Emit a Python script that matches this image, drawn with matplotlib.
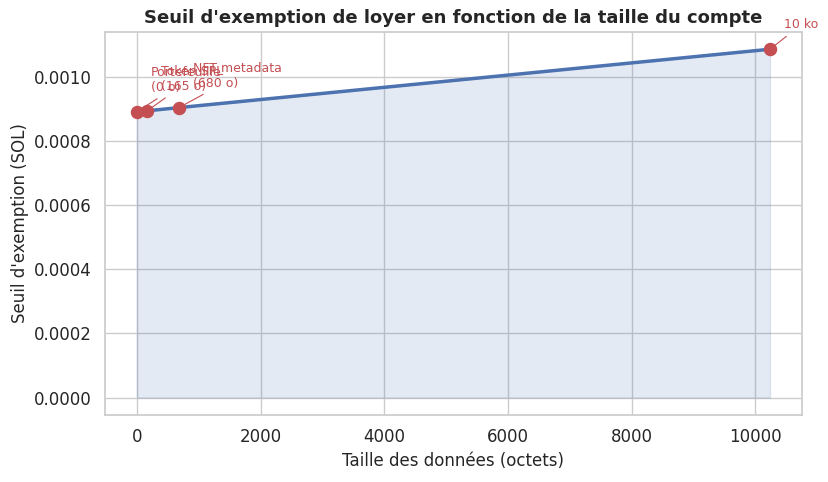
import matplotlib
matplotlib.use("Agg")
import matplotlib.pyplot as plt
import seaborn as sns

# Taille des données (octets) et seuil d'exemption (SOL)
sizes = [0, 165, 680, 10240]
rent_sol = [0.000891, 0.000894, 0.000904, 0.001086]
labels = ["Portefeuille\n(0 o)", "Token SPL\n(165 o)", "NFT metadata\n(680 o)", "10 ko"]

sns.set_theme(style="whitegrid")

fig, ax = plt.subplots(figsize=(8.29, 4.82), dpi=100)
ax.plot(sizes, rent_sol, color="#4c72b0", linewidth=2.5)
ax.fill_between(sizes, rent_sol, alpha=0.15, color="#4c72b0")
ax.scatter(sizes, rent_sol, color="#c44e52", s=75, zorder=5)

for x, y, lab in zip(sizes, rent_sol, labels):
    ax.annotate(lab, (x, y), xytext=(10, 15), textcoords="offset points",
                fontsize=9, color="#c44e52",
                arrowprops=dict(arrowstyle="-", color="#c44e52", lw=0.8))

ax.set_title("Seuil d'exemption de loyer en fonction de la taille du compte",
             fontsize=13, fontweight="bold")
ax.set_xlabel("Taille des données (octets)", fontsize=12)
ax.set_ylabel("Seuil d'exemption (SOL)", fontsize=12)
ax.tick_params(labelsize=12)
ax.yaxis.set_major_formatter(plt.FormatStrFormatter("%.4f"))
for s in ax.spines.values():
    s.set_color("#cccccc")

plt.subplots_adjust(left=0.127, right=0.967, top=0.934, bottom=0.139)
plt.savefig("out.png")
plt.close()
